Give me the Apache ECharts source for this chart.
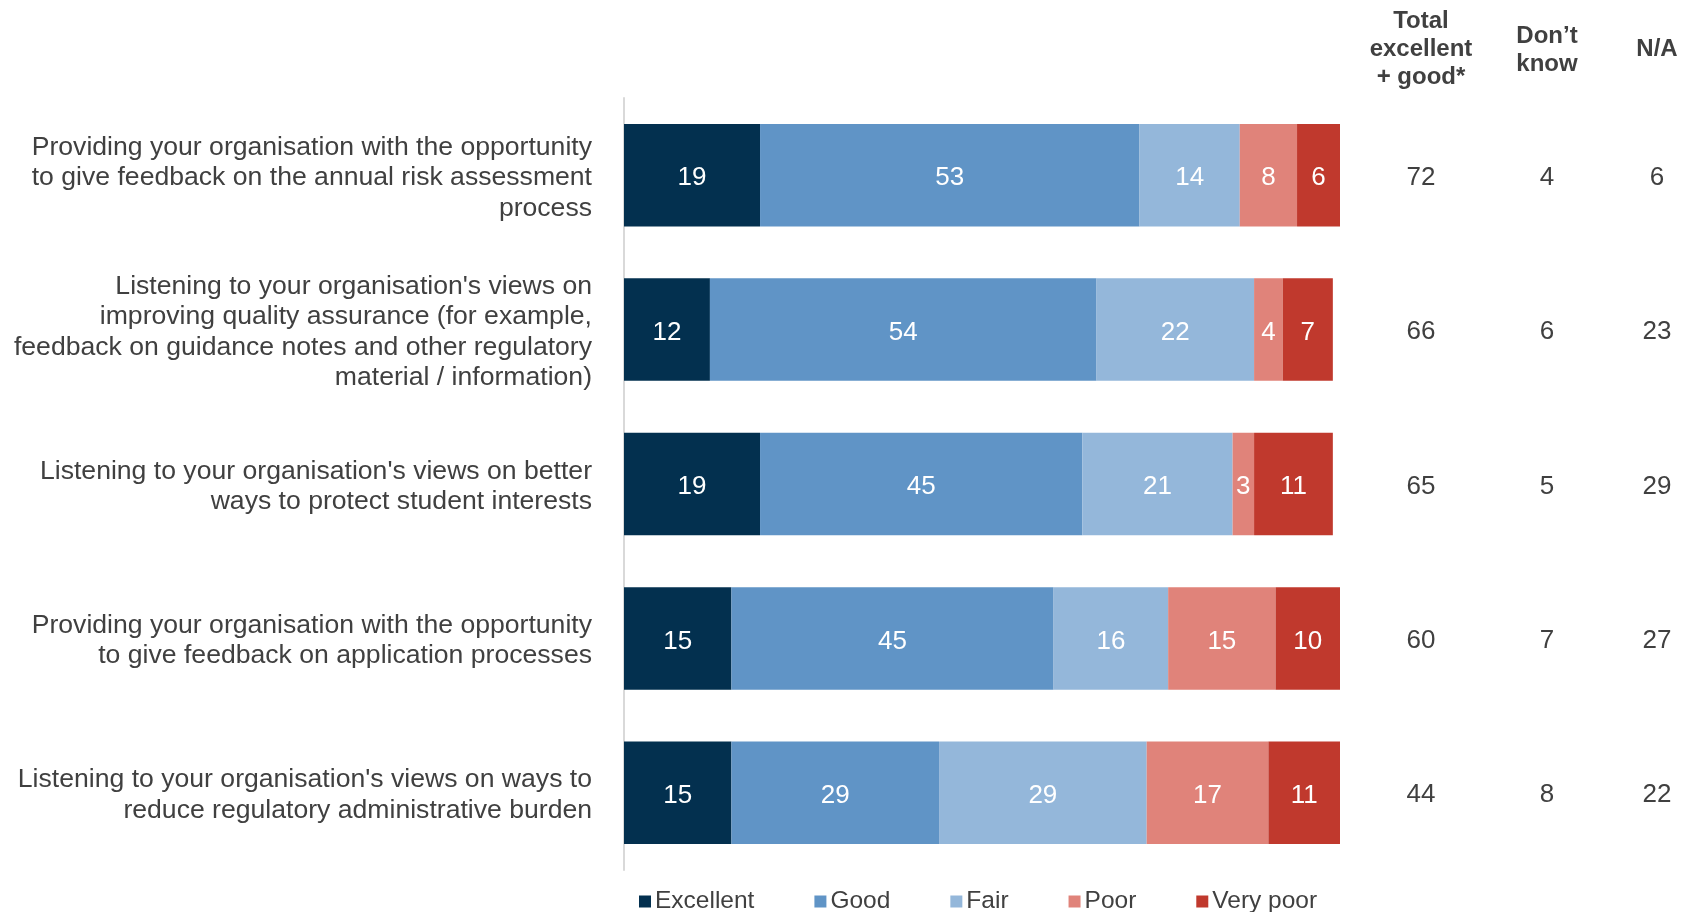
<!DOCTYPE html>
<html>
<head>
<meta charset="utf-8">
<script src="https://cdn.jsdelivr.net/npm/echarts@6/dist/echarts.min.js"></script>
<style>
  html, body { margin: 0; padding: 0; background: #fff; }
  #chart { width: 1692px; height: 912px; }
</style>
</head>
<body>
<div id="chart"></div>
<script>
// Survey statements (top to bottom)
const categories = [
  "Providing your organisation with the opportunity\nto give feedback on the annual risk assessment\nprocess",
  "Listening to your organisation's views on\nimproving quality assurance (for example,\nfeedback on guidance notes and other regulatory\nmaterial / information)",
  "Listening to your organisation's views on better\nways to protect student interests",
  "Providing your organisation with the opportunity\nto give feedback on application processes",
  "Listening to your organisation's views on ways to\nreduce regulatory administrative burden"
];

// Rating shares (%)
const excellent = [19, 12, 19, 15, 15];
const good      = [53, 54, 45, 45, 29];
const fair      = [14, 22, 21, 16, 29];
const poor      = [8, 4, 3, 15, 17];
const veryPoor  = [6, 7, 11, 10, 11];

// Side columns (%)
const totalExcellentGood = [72, 66, 65, 60, 44];
const dontKnow           = [4, 6, 5, 7, 8];
const notApplicable      = [6, 23, 29, 27, 22];

const FONT = '"Liberation Sans", Arial, sans-serif';
const TEXT = '#404040';

const ratingSeries = [
  { name: 'Excellent', data: excellent, color: '#03304F' },
  { name: 'Good',      data: good,      color: '#6094C6' },
  { name: 'Fair',      data: fair,      color: '#94B7DA' },
  { name: 'Poor',      data: poor,      color: '#E0837A' },
  { name: 'Very poor', data: veryPoor,  color: '#C0392D' }
];

// Side columns live on a text-only grid that sits a touch lower than the bar grid
function sideAxis(name, values, offset, nameGap) {
  return {
    gridIndex: 1,
    type: 'category',
    inverse: true,
    position: 'right',
    offset: offset,
    data: values.map(String),
    axisLine: { show: false },
    axisTick: { show: false },
    splitLine: { show: false },
    axisLabel: {
      margin: 0,
      align: 'center',
      color: TEXT,
      fontFamily: FONT,
      fontSize: 26
    },
    name: name,
    nameLocation: 'start',
    nameGap: nameGap,
    nameTextStyle: {
      color: TEXT,
      fontFamily: FONT,
      fontSize: 24,
      fontWeight: 'bold',
      lineHeight: 28,
      align: 'center',
      verticalAlign: 'bottom'
    }
  };
}

const chart = echarts.init(document.getElementById('chart'), null, { renderer: 'canvas' });

chart.setOption({
  animation: false,
  textStyle: { fontFamily: FONT },
  grid: [
    { left: 624, right: 352, top: 98, bottom: 42, containLabel: false },
    { left: 624, right: 352, top: 100.5, bottom: 39.5, containLabel: false }
  ],
  legend: {
    left: 634,
    top: 884,
    icon: 'rect',
    itemWidth: 12,
    itemHeight: 12,
    itemGap: 60,
    textStyle: { color: TEXT, fontFamily: FONT, fontSize: 24.5, padding: [0, 0, 0, -1] },
    data: ratingSeries.map(s => s.name)
  },
  xAxis: [
    { gridIndex: 0, type: 'value', min: 0, max: 100, show: false },
    { gridIndex: 1, type: 'value', min: 0, max: 100, show: false }
  ],
  yAxis: [
    {
      gridIndex: 0,
      type: 'category',
      inverse: true,
      data: categories,
      axisLine: { show: true, lineStyle: { color: '#D9D9D9', width: 2 } },
      axisTick: { show: false },
      axisLabel: { show: false }
    },
    {
      gridIndex: 1,
      type: 'category',
      inverse: true,
      data: categories,
      axisLine: { show: false },
      axisTick: { show: false },
      axisLabel: {
        margin: 32,
        color: TEXT,
        fontFamily: FONT,
        fontSize: 26.6,
        lineHeight: 30.5,
        align: 'right'
      }
    },
    sideAxis('Total\nexcellent\n+ good*', totalExcellentGood, 81, 9.5),
    sideAxis('Don\u2019t\nknow', dontKnow, 207, 22.5),
    sideAxis('N/A', notApplicable, 317, 37.5)
  ],
  series: ratingSeries.map(s => ({
    name: s.name,
    type: 'bar',
    stack: 'rating',
    xAxisIndex: 0,
    yAxisIndex: 0,
    barCategoryGap: '33.6%',
    data: s.data,
    itemStyle: { color: s.color },
    label: {
      show: true,
      position: 'inside',
      offset: [0, 3],
      color: '#fff',
      fontFamily: FONT,
      fontSize: 26,
      formatter: '{c}'
    }
  }))
});
</script>
</body>
</html>
